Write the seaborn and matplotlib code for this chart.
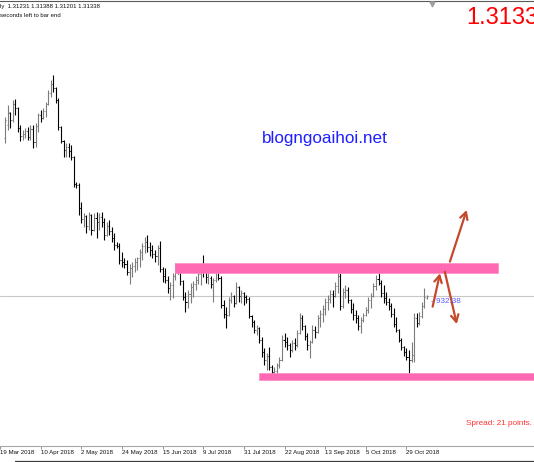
import numpy as np
import matplotlib
matplotlib.use('Agg')
import matplotlib.pyplot as plt
import seaborn as sns
from matplotlib.patches import Rectangle
from matplotlib.lines import Line2D

# GBPUSD daily bars, 21 Mar 2018 - 8 Nov 2018
opens = [1.4027, 1.4101, 1.4168, 1.4129, 1.4219, 1.4197, 1.4084, 1.4039, 1.4050, 1.4067,
         1.4033, 1.4078, 1.4005, 1.4095, 1.4157, 1.4140, 1.4180, 1.4219, 1.4281, 1.4332,
         1.4309, 1.4242, 1.4089, 1.4010, 1.3960, 1.3977, 1.3954, 1.3920, 1.3768, 1.3762,
         1.3633, 1.3570, 1.3587, 1.3531, 1.3593, 1.3508, 1.3576, 1.3554, 1.3582, 1.3554,
         1.3480, 1.3531, 1.3503, 1.3463, 1.3424, 1.3418, 1.3339, 1.3328, 1.3317, 1.3272,
         1.3294, 1.3305, 1.3328, 1.3351, 1.3384, 1.3418, 1.3441, 1.3413, 1.3396, 1.3373,
         1.3362, 1.3407, 1.3288, 1.3249, 1.3226, 1.3181, 1.3198, 1.3249, 1.3283, 1.3272,
         1.3221, 1.3131, 1.3102, 1.3147, 1.3187, 1.3204, 1.3226, 1.3260, 1.3283, 1.3272,
         1.3243, 1.3238, 1.3204, 1.3226, 1.3272, 1.3238, 1.3085, 1.3035, 1.3029, 1.3114,
         1.3136, 1.3097, 1.3187, 1.3136, 1.3153, 1.3131, 1.3119, 1.3023, 1.2990, 1.2944,
         1.2956, 1.2888, 1.2820, 1.2775, 1.2798, 1.2736, 1.2708, 1.2713, 1.2747, 1.2775,
         1.2888, 1.2877, 1.2860, 1.2832, 1.2871, 1.2860, 1.2928, 1.3012, 1.2967, 1.2911,
         1.2860, 1.2877, 1.2944, 1.2933, 1.3012, 1.3035, 1.3063, 1.3102, 1.3119, 1.3147,
         1.3136, 1.3193, 1.3249, 1.3080, 1.3159, 1.3170, 1.3114, 1.3063, 1.3029, 1.3012,
         1.2967, 1.3001, 1.3029, 1.3057, 1.3114, 1.3136, 1.3193, 1.3232, 1.3210, 1.3153,
         1.3125, 1.3102, 1.3080, 1.3035, 1.2978, 1.2944, 1.2888, 1.2849, 1.2820, 1.2792,
         1.2775, 1.2803, 1.3012, 1.2984, 1.3023, 1.3080, 1.3123]
highs = [1.4146, 1.4213, 1.4174, 1.4242, 1.4247, 1.4202, 1.4101, 1.4072, 1.4084, 1.4089,
         1.4101, 1.4101, 1.4112, 1.4168, 1.4185, 1.4197, 1.4230, 1.4298, 1.4354, 1.4383,
         1.4315, 1.4253, 1.4095, 1.4016, 1.3999, 1.3999, 1.3988, 1.3926, 1.3779, 1.3773,
         1.3666, 1.3604, 1.3593, 1.3610, 1.3599, 1.3604, 1.3610, 1.3604, 1.3610, 1.3576,
         1.3554, 1.3565, 1.3525, 1.3492, 1.3441, 1.3435, 1.3384, 1.3351, 1.3339, 1.3317,
         1.3328, 1.3351, 1.3356, 1.3401, 1.3435, 1.3469, 1.3480, 1.3441, 1.3424, 1.3396,
         1.3424, 1.3446, 1.3300, 1.3294, 1.3249, 1.3215, 1.3266, 1.3322, 1.3300, 1.3283,
         1.3226, 1.3159, 1.3170, 1.3210, 1.3221, 1.3249, 1.3283, 1.3300, 1.3367, 1.3305,
         1.3305, 1.3249, 1.3238, 1.3294, 1.3283, 1.3249, 1.3114, 1.3074, 1.3131, 1.3159,
         1.3142, 1.3215, 1.3193, 1.3170, 1.3159, 1.3142, 1.3131, 1.3029, 1.3001, 1.2973,
         1.2961, 1.2905, 1.2843, 1.2815, 1.2849, 1.2747, 1.2736, 1.2758, 1.2792, 1.2916,
         1.2928, 1.2905, 1.2871, 1.2888, 1.2899, 1.2944, 1.3040, 1.3029, 1.2973, 1.2928,
         1.2888, 1.2973, 1.2967, 1.3029, 1.3057, 1.3085, 1.3125, 1.3142, 1.3170, 1.3170,
         1.3215, 1.3294, 1.3266, 1.3181, 1.3198, 1.3187, 1.3120, 1.3097, 1.3057, 1.3029,
         1.3018, 1.3040, 1.3074, 1.3131, 1.3153, 1.3210, 1.3255, 1.3266, 1.3226, 1.3198,
         1.3159, 1.3125, 1.3097, 1.3069, 1.3018, 1.2950, 1.2899, 1.2855, 1.2843, 1.2832,
         1.2877, 1.3040, 1.3040, 1.3046, 1.3102, 1.3181, 1.3139]
lows = [1.3999, 1.4072, 1.4084, 1.4118, 1.4157, 1.4061, 1.4010, 1.4016, 1.4027, 1.4016,
        1.4016, 1.3971, 1.3977, 1.4061, 1.4118, 1.4134, 1.4146, 1.4213, 1.4259, 1.4287,
        1.4225, 1.4072, 1.3999, 1.3920, 1.3920, 1.3920, 1.3903, 1.3751, 1.3745, 1.3593,
        1.3548, 1.3525, 1.3492, 1.3508, 1.3480, 1.3503, 1.3463, 1.3508, 1.3525, 1.3452,
        1.3475, 1.3480, 1.3441, 1.3396, 1.3407, 1.3317, 1.3300, 1.3294, 1.3255, 1.3204,
        1.3243, 1.3272, 1.3283, 1.3300, 1.3339, 1.3379, 1.3384, 1.3362, 1.3351, 1.3328,
        1.3311, 1.3272, 1.3215, 1.3210, 1.3153, 1.3114, 1.3125, 1.3226, 1.3260, 1.3198,
        1.3114, 1.3046, 1.3069, 1.3097, 1.3131, 1.3170, 1.3204, 1.3198, 1.3243, 1.3210,
        1.3204, 1.3181, 1.3102, 1.3215, 1.3226, 1.3069, 1.3012, 1.2956, 1.3023, 1.3097,
        1.3074, 1.3091, 1.3102, 1.3097, 1.3085, 1.3097, 1.3012, 1.2961, 1.2928, 1.2916,
        1.2871, 1.2792, 1.2747, 1.2719, 1.2719, 1.2691, 1.2662, 1.2685, 1.2730, 1.2770,
        1.2849, 1.2832, 1.2792, 1.2820, 1.2832, 1.2849, 1.2922, 1.2944, 1.2888, 1.2832,
        1.2787, 1.2871, 1.2899, 1.2927, 1.2961, 1.2990, 1.3029, 1.3057, 1.3097, 1.3074,
        1.3131, 1.3153, 1.3057, 1.3069, 1.3125, 1.3097, 1.3040, 1.3001, 1.2984, 1.2944,
        1.2928, 1.2990, 1.3023, 1.3040, 1.3069, 1.3131, 1.3170, 1.3198, 1.3131, 1.3097,
        1.3085, 1.3057, 1.3018, 1.2961, 1.2933, 1.2877, 1.2832, 1.2798, 1.2775, 1.2702,
        1.2764, 1.2764, 1.2961, 1.2973, 1.3012, 1.3069, 1.3120]
closes = [1.4129, 1.4174, 1.4129, 1.4219, 1.4197, 1.4084, 1.4039, 1.4050, 1.4067, 1.4033,
          1.4078, 1.4005, 1.4095, 1.4157, 1.4140, 1.4180, 1.4219, 1.4281, 1.4332, 1.4309,
          1.4242, 1.4089, 1.4010, 1.3960, 1.3977, 1.3954, 1.3920, 1.3768, 1.3762, 1.3633,
          1.3570, 1.3587, 1.3531, 1.3593, 1.3508, 1.3576, 1.3554, 1.3582, 1.3554, 1.3480,
          1.3531, 1.3503, 1.3463, 1.3424, 1.3418, 1.3339, 1.3328, 1.3317, 1.3272, 1.3294,
          1.3305, 1.3328, 1.3351, 1.3384, 1.3418, 1.3441, 1.3413, 1.3396, 1.3373, 1.3362,
          1.3407, 1.3288, 1.3249, 1.3226, 1.3181, 1.3198, 1.3249, 1.3283, 1.3272, 1.3221,
          1.3131, 1.3102, 1.3147, 1.3187, 1.3204, 1.3226, 1.3260, 1.3283, 1.3272, 1.3243,
          1.3283, 1.3204, 1.3226, 1.3272, 1.3238, 1.3085, 1.3035, 1.3029, 1.3114, 1.3136,
          1.3097, 1.3187, 1.3136, 1.3153, 1.3131, 1.3119, 1.3023, 1.2990, 1.2944, 1.2956,
          1.2888, 1.2820, 1.2775, 1.2798, 1.2736, 1.2708, 1.2713, 1.2747, 1.2775, 1.2888,
          1.2877, 1.2860, 1.2832, 1.2871, 1.2860, 1.2928, 1.3012, 1.2967, 1.2911, 1.2860,
          1.2877, 1.2944, 1.2933, 1.3012, 1.3035, 1.3063, 1.3102, 1.3119, 1.3147, 1.3136,
          1.3193, 1.3249, 1.3080, 1.3159, 1.3170, 1.3114, 1.3063, 1.3029, 1.3012, 1.2967,
          1.3001, 1.3029, 1.3057, 1.3114, 1.3136, 1.3193, 1.3232, 1.3210, 1.3153, 1.3125,
          1.3102, 1.3080, 1.3035, 1.2978, 1.2944, 1.2888, 1.2849, 1.2820, 1.2792, 1.2775,
          1.2803, 1.3012, 1.2984, 1.3023, 1.3080, 1.3131, 1.3134]

# time axis labels (bar index of each label, first one sits just left of the chart)
tick_bars = [-2, 14, 30, 46, 62, 78, 94, 110, 126, 142, 158]
tick_labels = ['19 Mar 2018', '10 Apr 2018', '2 May 2018', '24 May 2018', '15 Jun 2018',
               '9 Jul 2018', '31 Jul 2018', '22 Aug 2018', '13 Sep 2018', '5 Oct 2018',
               '29 Oct 2018']

bid = 1.3134
# drawn zones: (first bar, last bar, bottom price, top price)
resistance = (66.9, 194.1, 1.3266, 1.3322)
support = (100.1, 215.0, 1.2662, 1.2702)

W, H = 534, 462

sns.set_theme(style='white')
plt.rcParams['font.family'] = ['Liberation Sans', 'DejaVu Sans']


def fpos(x, y):
    # pixel position -> figure fraction
    return x / W, 1 - y / H


fig = plt.figure(figsize=(W / 100, H / 100), dpi=100)
fig.patch.set_facecolor('white')
ax = fig.add_axes([0, 16 / H, 1, 445 / H])
ax.set_facecolor('white')

idx = np.arange(len(closes))
o = np.array(opens)
c = np.array(closes)
cols = np.where(c >= o, '#7c7c7c', '#000000')

ax.vlines(idx, lows, highs, colors=cols, lw=0.8)
ax.hlines(o, idx - 0.42, idx, colors=cols, lw=0.7)
ax.hlines(c, idx, idx + 0.42, colors=cols, lw=0.7)

ax.axhline(bid, color='#c8c8c8', lw=0.8, zorder=0)

for x0, x1, y0, y1 in (resistance, support):
    ax.add_patch(Rectangle((x0, y0), x1 - x0, y1 - y0, facecolor='#ff69b4',
                           edgecolor='#ff8cc6', lw=0.5, zorder=3))

arrows = [((168.3, 1.3076), (171.2, 1.3264)),
          ((175.1, 1.3330), (181.7, 1.3621)),
          ((173.1, 1.3273), (177.8, 1.2978))]
for start, end in arrows:
    ax.annotate('', xy=end, xytext=start, annotation_clip=False,
                arrowprops=dict(arrowstyle='->,head_length=0.55,head_width=0.3',
                                color='#c4482c', lw=1.6, mutation_scale=9,
                                shrinkA=0, shrinkB=0))

ax.set_xlim(-0.195, 208.2)
ax.set_ylim(1.48056 - 0.000564 * 446, 1.48056 - 0.000564 * 1)
ax.set_yticks([])
ax.set_xticks(tick_bars)
ax.set_xticklabels(tick_labels, ha='left', fontsize=4.4, color='#111111')
ax.tick_params(axis='x', direction='out', length=2.3, width=0.6, color='#808080',
               pad=0.4, bottom=True)
for side in ['left', 'right']:
    ax.spines[side].set_visible(False)
ax.spines['top'].set_color('#5a5a5a')
ax.spines['top'].set_linewidth(0.8)
ax.spines['bottom'].set_color('#a8a8a8')
ax.spines['bottom'].set_linewidth(0.8)

# window edge under the time scale
fig.add_artist(Line2D([15 / W, 1], [1 - 461 / H] * 2, transform=fig.transFigure,
                      color='#3c3c3c', lw=0.9))
# chart shift marker
fig.add_artist(Line2D([432 / W], [1 - 3.5 / H], transform=fig.transFigure, marker='v',
                      markersize=3.5, color='#a0a0a0', lw=0))

fig.text(*fpos(-0.5, 8), 'ly  1.31231 1.31388 1.31201 1.31338', fontsize=4.3,
         color='#111111', va='baseline')
fig.text(*fpos(-0.5, 17), 'seconds left to bar end', fontsize=4.3,
         color='#111111', va='baseline')
fig.text(*fpos(466, 23.5), '1.3133', fontsize=17, color='#ff0000', va='baseline')
fig.text(*fpos(262, 143), 'blogngoaihoi.net', fontsize=12.3, color='#1f1fff',
         va='baseline')
fig.text(*fpos(431, 303), '- 932:38', fontsize=5.9, color='#5a5aff', va='baseline')
fig.text(*fpos(466, 425), 'Spread: 21 points.', fontsize=5.9, color='#ff3333',
         va='baseline')

fig.savefig('out.png', dpi=100, facecolor='white')
